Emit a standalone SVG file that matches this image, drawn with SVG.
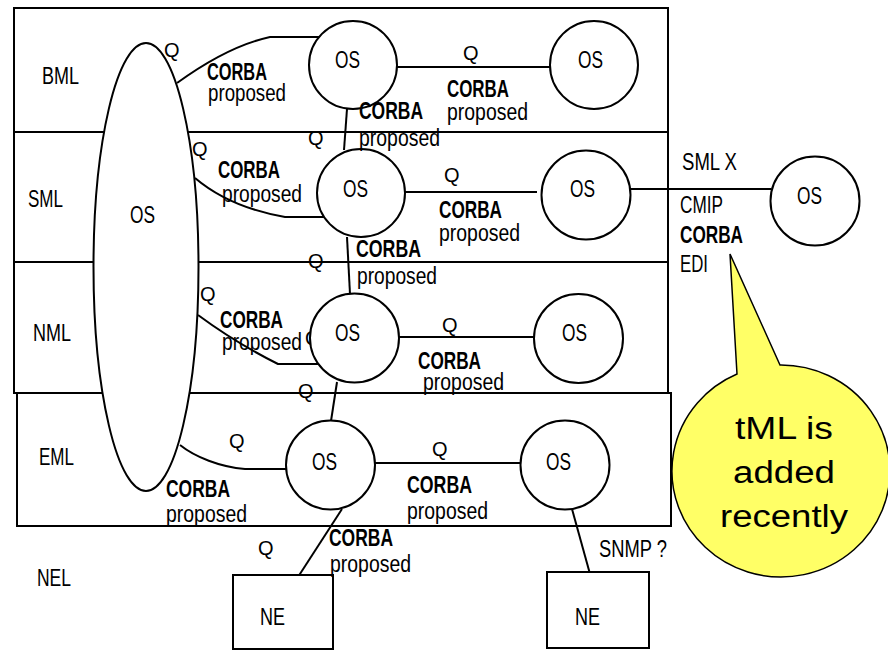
<svg xmlns="http://www.w3.org/2000/svg" width="888" height="650" viewBox="0 0 888 650">
<style>
.ln{fill:none;stroke:#000;stroke-width:2}
.nd{fill:#fff;stroke:#000;stroke-width:2}
.t{font-family:"Liberation Sans",Arial,sans-serif;font-size:23.5px;fill:#000}
.b{font-weight:bold}
.q{font-family:"Liberation Sans",Arial,sans-serif;font-size:20px;fill:#000}
.c{font-family:"Liberation Sans",Arial,sans-serif;font-size:31px;fill:#000;text-anchor:middle}
</style>
<rect width="888" height="650" fill="#fff"/>
<g id="layers">
<rect class="ln" x="14" y="8" width="654" height="385"/>
<line class="ln" x1="14" y1="132" x2="668" y2="132"/>
<line class="ln" x1="14" y1="262" x2="668" y2="262"/>
<rect class="ln" x="17" y="393" width="654" height="133"/>
<text class="t" x="42" y="84" textLength="37" lengthAdjust="spacingAndGlyphs">BML</text>
<text class="t" x="28" y="207" textLength="35" lengthAdjust="spacingAndGlyphs">SML</text>
<text class="t" x="33" y="341" textLength="38" lengthAdjust="spacingAndGlyphs">NML</text>
<text class="t" x="39" y="465" textLength="35" lengthAdjust="spacingAndGlyphs">EML</text>
<text class="t" x="37" y="586" textLength="34" lengthAdjust="spacingAndGlyphs">NEL</text>
</g>
<g id="connectors">
<path class="ln" d="M177,83 Q228,46 270,37 L319,37"/>
<line class="ln" x1="397" y1="67" x2="550" y2="67"/>
<line class="ln" x1="347" y1="109" x2="344" y2="150"/>
<path class="ln" d="M195,178 C215,195 245,210 285,217 L324,217"/>
<line class="ln" x1="404" y1="192" x2="537" y2="192"/>
<line class="ln" x1="631" y1="189" x2="771" y2="189"/>
<line class="ln" x1="347" y1="237" x2="350" y2="294"/>
<path class="ln" d="M198,315 C225,335 250,350 278,364 L319,364"/>
<line class="ln" x1="398" y1="337" x2="534" y2="337"/>
<line class="ln" x1="337" y1="382" x2="331" y2="421"/>
<path class="ln" d="M180,445 C195,457 220,467 245,469 L287,469"/>
<line class="ln" x1="374" y1="463" x2="521" y2="463"/>
<line class="ln" x1="342" y1="509" x2="298" y2="577"/>
<line class="ln" x1="572" y1="509" x2="590" y2="574"/>
</g>
<text class="q" x="305" y="345">Q</text>
<g id="os-main"><ellipse class="nd" cx="146" cy="267" rx="52.5" ry="224"/><text class="t" x="130" y="223" textLength="25" lengthAdjust="spacingAndGlyphs">OS</text></g>
<g id="os-bml1"><circle class="nd" cx="353" cy="65" r="44"/><text class="t" x="335" y="68" textLength="25" lengthAdjust="spacingAndGlyphs">OS</text></g>
<g id="os-bml2"><circle class="nd" cx="594" cy="65" r="44"/><text class="t" x="578" y="68" textLength="25" lengthAdjust="spacingAndGlyphs">OS</text></g>
<g id="os-sml1"><circle class="nd" cx="361" cy="193" r="44"/><text class="t" x="343" y="197" textLength="25" lengthAdjust="spacingAndGlyphs">OS</text></g>
<g id="os-sml2"><circle class="nd" cx="586" cy="195" r="44.5"/><text class="t" x="570" y="197" textLength="25" lengthAdjust="spacingAndGlyphs">OS</text></g>
<g id="os-x"><circle class="nd" cx="815" cy="201" r="44.5"/><text class="t" x="797" y="204" textLength="25" lengthAdjust="spacingAndGlyphs">OS</text></g>
<g id="os-nml1"><circle class="nd" cx="354.5" cy="338" r="44.5"/><text class="t" x="335" y="341" textLength="25" lengthAdjust="spacingAndGlyphs">OS</text></g>
<g id="os-nml2"><circle class="nd" cx="578.5" cy="338.5" r="44.5"/><text class="t" x="562" y="341" textLength="25" lengthAdjust="spacingAndGlyphs">OS</text></g>
<g id="os-eml1"><circle class="nd" cx="330.5" cy="465" r="44.5"/><text class="t" x="312" y="470" textLength="25" lengthAdjust="spacingAndGlyphs">OS</text></g>
<g id="os-eml2"><circle class="nd" cx="565" cy="465" r="44.5"/><text class="t" x="546" y="470" textLength="25" lengthAdjust="spacingAndGlyphs">OS</text></g>
<g id="ne1"><rect class="nd" x="233" y="575" width="100" height="74"/><text class="t" x="260" y="625" textLength="25" lengthAdjust="spacingAndGlyphs">NE</text></g>
<g id="ne2"><rect class="nd" x="547" y="572" width="102" height="76"/><text class="t" x="575" y="625" textLength="25" lengthAdjust="spacingAndGlyphs">NE</text></g>
<g id="labels">
<text class="q" x="164" y="57">Q</text>
<text class="t b" x="207" y="80" textLength="60" lengthAdjust="spacingAndGlyphs">CORBA</text>
<text class="t" x="208" y="101" textLength="78" lengthAdjust="spacingAndGlyphs">proposed</text>
<text class="q" x="463" y="60">Q</text>
<text class="t b" x="447" y="97" textLength="62" lengthAdjust="spacingAndGlyphs">CORBA</text>
<text class="t" x="447" y="120" textLength="81" lengthAdjust="spacingAndGlyphs">proposed</text>
<text class="t b" x="359" y="119" textLength="64" lengthAdjust="spacingAndGlyphs">CORBA</text>
<text class="t" x="359" y="146" textLength="81" lengthAdjust="spacingAndGlyphs">proposed</text>
<text class="q" x="308" y="145">Q</text>
<text class="q" x="192" y="156">Q</text>
<text class="t b" x="218" y="178" textLength="62" lengthAdjust="spacingAndGlyphs">CORBA</text>
<text class="t" x="222" y="202" textLength="80" lengthAdjust="spacingAndGlyphs">proposed</text>
<text class="q" x="444" y="182">Q</text>
<text class="t b" x="439" y="218" textLength="63" lengthAdjust="spacingAndGlyphs">CORBA</text>
<text class="t" x="439" y="241" textLength="81" lengthAdjust="spacingAndGlyphs">proposed</text>
<text class="t b" x="356" y="257" textLength="65" lengthAdjust="spacingAndGlyphs">CORBA</text>
<text class="t" x="357" y="284" textLength="80" lengthAdjust="spacingAndGlyphs">proposed</text>
<text class="q" x="308" y="268">Q</text>
<text class="t" x="682" y="170" textLength="55" lengthAdjust="spacingAndGlyphs">SML X</text>
<text class="t" x="680" y="213" textLength="43" lengthAdjust="spacingAndGlyphs">CMIP</text>
<text class="t b" x="680" y="243" textLength="63" lengthAdjust="spacingAndGlyphs">CORBA</text>
<text class="t" x="680" y="272" textLength="28" lengthAdjust="spacingAndGlyphs">EDI</text>
<text class="q" x="200" y="301">Q</text>
<text class="t b" x="220" y="328" textLength="63" lengthAdjust="spacingAndGlyphs">CORBA</text>
<text class="t" x="222" y="350" textLength="80" lengthAdjust="spacingAndGlyphs">proposed</text>
<text class="q" x="442" y="332">Q</text>
<text class="t b" x="418" y="369" textLength="63" lengthAdjust="spacingAndGlyphs">CORBA</text>
<text class="t" x="423" y="390" textLength="81" lengthAdjust="spacingAndGlyphs">proposed</text>
<text class="q" x="298" y="398">Q</text>
<text class="q" x="229" y="448">Q</text>
<text class="t b" x="166" y="497" textLength="64" lengthAdjust="spacingAndGlyphs">CORBA</text>
<text class="t" x="166" y="522" textLength="81" lengthAdjust="spacingAndGlyphs">proposed</text>
<text class="q" x="432" y="456">Q</text>
<text class="t b" x="407" y="493" textLength="65" lengthAdjust="spacingAndGlyphs">CORBA</text>
<text class="t" x="407" y="519" textLength="81" lengthAdjust="spacingAndGlyphs">proposed</text>
<text class="q" x="258" y="555">Q</text>
<text class="t b" x="329" y="546" textLength="64" lengthAdjust="spacingAndGlyphs">CORBA</text>
<text class="t" x="330" y="572" textLength="81" lengthAdjust="spacingAndGlyphs">proposed</text>
<text class="t" x="599" y="557" textLength="68" lengthAdjust="spacingAndGlyphs">SNMP ?</text>
</g>
<g id="callout">
<path d="M737,374 L730,254 L780,365 A109,106 0 1 1 737,374 Z" fill="#ffff66" stroke="#000" stroke-width="1.5"/>
<text class="c" x="784" y="439" textLength="98" lengthAdjust="spacingAndGlyphs">tML is</text>
<text class="c" x="784" y="483" textLength="102" lengthAdjust="spacingAndGlyphs">added</text>
<text class="c" x="784" y="527" textLength="128" lengthAdjust="spacingAndGlyphs">recently</text>
</g>
</svg>
